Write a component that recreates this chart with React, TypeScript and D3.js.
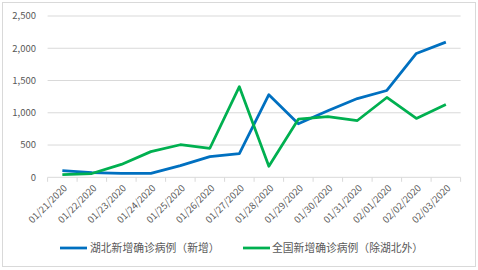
import React from "react";
import * as d3 from "d3";

const categories = ["01/21/2020","01/22/2020","01/23/2020","01/24/2020","01/25/2020","01/26/2020","01/27/2020","01/28/2020","01/29/2020","01/30/2020","01/31/2020","02/01/2020","02/02/2020","02/03/2020"];
const hubei = [105, 72, 62, 62, 180, 321, 368, 1280, 830, 1030, 1220, 1346, 1920, 2095];
const others = [40, 58, 200, 398, 505, 450, 1405, 170, 900, 942, 880, 1237, 912, 1128];
const yTicks = [0, 500, 1000, 1500, 2000, 2500];
const seriesNames = ["湖北新增确诊病例（新增）", "全国新增确诊病例（除湖北外）"];
const colors = ["#0070C0", "#00B050"];

export default function App() {
  const W = 478, H = 270;
  const left = 47.6, right = 460.6, top = 16, bottom = 177.3;
  const x = d3.scaleBand<string>().domain(categories).range([left, right]);
  const y = d3.scaleLinear().domain([0, 2500]).range([bottom, top]);
  const line = d3.line<number>()
    .x((_, i) => (x(categories[i]) as number) + x.bandwidth() / 2)
    .y((d) => y(d));
  const font = "'Noto Sans CJK SC', 'Noto Sans', sans-serif";
  const tickEdges = [...categories.map((c) => x(c) as number), right];
  return (
    <svg width={W} height={H} style={{ position: "absolute", left: 0, top: 0 }} fontFamily={font}>
      <rect x={0} y={0} width={W} height={H} fill="#fff" />
      <rect x={2.5} y={2.5} width={473} height={264} fill="none" stroke="#d9d9d9" strokeWidth={1} />
      {yTicks.map((t) => (
        <g key={t}>
          <line x1={left} x2={right} y1={y(t)} y2={y(t)} stroke="#d9d9d9" strokeWidth={1} />
          <text x={36} y={y(t)} dy="0.35em" textAnchor="end" fontSize={9.5} fill="#595959">{d3.format(",")(t)}</text>
        </g>
      ))}
      {tickEdges.map((e, i) => (
        <line key={i} x1={e} x2={e} y1={bottom} y2={bottom + 4.5} stroke="#d9d9d9" strokeWidth={1} />
      ))}
      {categories.map((c) => {
        const cx = (x(c) as number) + x.bandwidth() / 2 + 3;
        const cy = bottom + 9;
        return (
          <text key={c} x={cx} y={cy} transform={`rotate(-45 ${cx} ${cy})`} textAnchor="end" fontSize={9.5} fill="#595959" dy="0.35em">{c}</text>
        );
      })}
      <path d={line(hubei) || ""} fill="none" stroke={colors[0]} strokeWidth={2.75} strokeLinejoin="round" />
      <path d={line(others) || ""} fill="none" stroke={colors[1]} strokeWidth={2.75} strokeLinejoin="round" />
      {[{ x0: 60, tx: 90 }, { x0: 243, tx: 272 }].map((l, i) => (
        <g key={i}>
          <line x1={l.x0} x2={l.x0 + 27} y1={248} y2={248} stroke={colors[i]} strokeWidth={2.75} />
          <text x={l.tx} y={248} dy="0.35em" fontSize={10.8} fill="#595959">{seriesNames[i]}</text>
        </g>
      ))}
    </svg>
  );
}
